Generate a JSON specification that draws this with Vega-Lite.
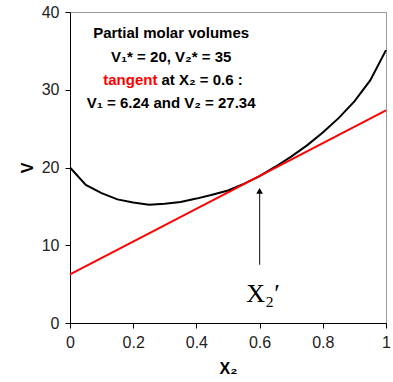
{
  "$schema": "https://vega.github.io/schema/vega-lite/v6.json",
  "width": 316,
  "height": 311,
  "autosize": {"type": "none"},
  "padding": {"left": 70, "top": 12, "right": 7, "bottom": 59},
  "config": {
    "view": {"stroke": "#999999", "strokeWidth": 1},
    "font": "Liberation Sans",
    "axis": {
      "grid": false,
      "domainColor": "#000000",
      "tickColor": "#000000",
      "labelColor": "#222222",
      "labelFont": "Liberation Sans",
      "labelFontSize": 16,
      "titleFont": "Liberation Sans",
      "titleFontSize": 16,
      "titleFontWeight": "bold",
      "titleColor": "#000000",
      "tickSize": 5
    }
  },
  "datasets": {
    "curve": [
      {"x2": 0.0, "V": 20.0}, {"x2": 0.05, "V": 17.75}, {"x2": 0.1, "V": 16.7},
      {"x2": 0.15, "V": 15.9}, {"x2": 0.2, "V": 15.5}, {"x2": 0.25, "V": 15.2},
      {"x2": 0.3, "V": 15.35}, {"x2": 0.35, "V": 15.55}, {"x2": 0.4, "V": 16.0},
      {"x2": 0.45, "V": 16.5}, {"x2": 0.5, "V": 17.05}, {"x2": 0.55, "V": 17.9},
      {"x2": 0.6, "V": 18.9}, {"x2": 0.65, "V": 20.1}, {"x2": 0.7, "V": 21.4},
      {"x2": 0.75, "V": 22.85}, {"x2": 0.8, "V": 24.5}, {"x2": 0.85, "V": 26.35},
      {"x2": 0.9, "V": 28.5}, {"x2": 0.95, "V": 31.2}, {"x2": 1.0, "V": 35.1}
    ],
    "tangent": [
      {"x2": 0.0, "V": 6.24}, {"x2": 1.0, "V": 27.34}
    ],
    "arrow": [
      {"x2": 0.6, "y0": 7.5, "y1": 16.9}
    ],
    "head": [
      {"x2": 0.6, "V": 17.0}
    ],
    "notes": [
      {"x2": 0.32, "V": 37.3, "label": "Partial molar volumes"},
      {"x2": 0.32, "V": 34.2, "label": "V₁* = 20, V₂* = 35"},
      {"x2": 0.32, "V": 28.3, "label": "V₁ = 6.24 and V₂ = 27.34"}
    ],
    "tanlabel": [{"x2": 0.283, "V": 31.2, "label": "tangent"}],
    "atlabel": [{"x2": 0.283, "V": 31.2, "label": "at X₂ = 0.6 :"}],
    "xprime": [{"x2": 0.611, "V": 2.7, "label": "X₂′"}]
  },
  "encoding": {
    "x": {
      "field": "x2", "type": "quantitative",
      "scale": {"domain": [0, 1], "nice": false},
      "axis": {"values": [0, 0.2, 0.4, 0.6, 0.8, 1], "format": "~g", "title": "X₂", "labelPadding": 6, "titlePadding": 10, "labelFlush": false}
    }
  },
  "layer": [
    {
      "data": {"name": "curve"},
      "mark": {"type": "line", "color": "#000000", "strokeWidth": 2},
      "encoding": {
        "y": {"field": "V", "type": "quantitative", "scale": {"domain": [0, 40], "nice": false},
          "axis": {"values": [0, 10, 20, 30, 40], "title": "V", "labelPadding": 6, "titlePadding": 6}}
      }
    },
    {
      "data": {"name": "tangent"},
      "mark": {"type": "line", "color": "#ff0000", "strokeWidth": 2},
      "encoding": {"y": {"field": "V", "type": "quantitative"}}
    },
    {
      "data": {"name": "arrow"},
      "mark": {"type": "rule", "color": "#333333", "strokeWidth": 1.2},
      "encoding": {"y": {"field": "y0", "type": "quantitative"}, "y2": {"field": "y1"}}
    },
    {
      "data": {"name": "head"},
      "mark": {"type": "point", "shape": "triangle-up", "filled": true, "color": "#000000", "size": 45, "opacity": 1},
      "encoding": {"y": {"field": "V", "type": "quantitative"}}
    },
    {
      "data": {"name": "notes"},
      "mark": {"type": "text", "fontSize": 15, "fontWeight": "bold", "color": "#000000", "align": "center", "baseline": "middle"},
      "encoding": {"y": {"field": "V", "type": "quantitative"}, "text": {"field": "label"}}
    },
    {
      "data": {"name": "tanlabel"},
      "mark": {"type": "text", "fontSize": 15, "fontWeight": "bold", "color": "#ff0000", "align": "right", "baseline": "middle", "dx": -2},
      "encoding": {"y": {"field": "V", "type": "quantitative"}, "text": {"field": "label"}}
    },
    {
      "data": {"name": "atlabel"},
      "mark": {"type": "text", "fontSize": 15, "fontWeight": "bold", "color": "#000000", "align": "left", "baseline": "middle", "dx": 2},
      "encoding": {"y": {"field": "V", "type": "quantitative"}, "text": {"field": "label"}}
    },
    {
      "data": {"name": "xprime"},
      "mark": {"type": "text", "font": "Liberation Serif", "fontSize": 26, "color": "#000000", "align": "center", "baseline": "alphabetic"},
      "encoding": {"y": {"field": "V", "type": "quantitative"}, "text": {"field": "label"}}
    }
  ]
}
